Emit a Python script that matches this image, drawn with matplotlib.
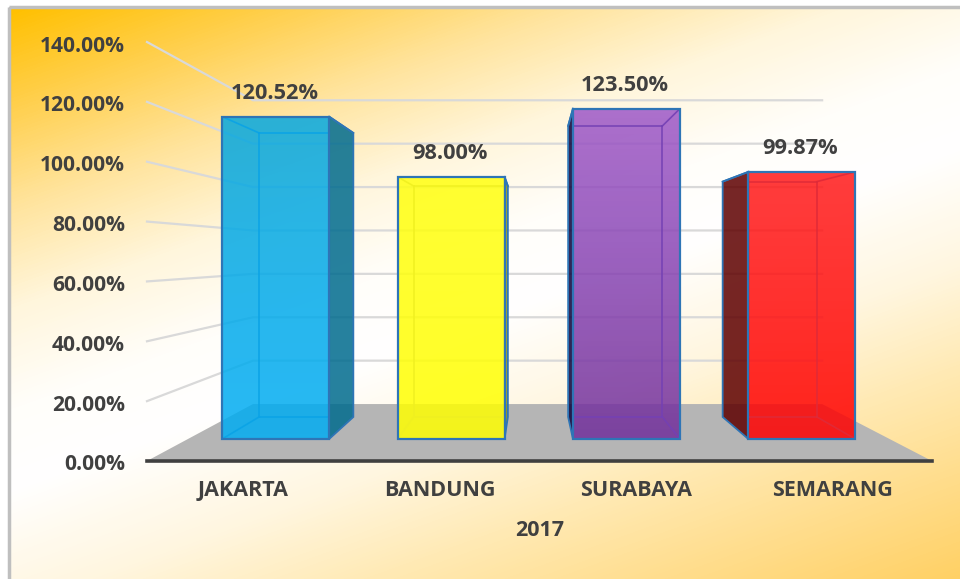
import numpy as np
import matplotlib
matplotlib.use('Agg')
import matplotlib.pyplot as plt
import matplotlib.transforms as mtrans
from matplotlib.colors import LinearSegmentedColormap, to_rgb, to_rgba
from matplotlib.patches import Polygon, Rectangle

categories = ['JAKARTA', 'BANDUNG', 'SURABAYA', 'SEMARANG']
values = [120.52, 98.00, 123.50, 99.87]
value_labels = ['120.52%', '98.00%', '123.50%', '99.87%']
y_ticks = [0, 20, 40, 60, 80, 100, 120, 140]
x_title = '2017'

top_colors = ['#04A7DF', '#FFFF10', '#9D57C8', '#FF1919']
bottom_colors = ['#00ADF3', '#FFFF00', '#712F9B', '#FF0000']
side_colors = ['#006B8E', '#999900', '#09003A', '#5E0000']
inner_colors = ['#0AA3E6', '#F0F020', '#7440B4', '#E02A38']

TEXT = '#404040'
EDGE = '#2E75B6'

plt.rcParams['font.family'] = ['Open Sans', 'DejaVu Sans']
plt.rcParams['font.weight'] = 'bold'
FS = 15.5

# Perspective: depth 0 is the front of the floor, depth 1 the back wall.
VP_X, VP_V = 1.464, 69.2
BACK_SCALE = 0.725
BAR_FRONT, BAR_BACK = 0.386, 0.773
HALF_W = 0.305
BAR_ALPHA = 0.85


def proj(x, v, d):
    s = 1 - (1 - BACK_SCALE) * d
    return VP_X + s * (x - VP_X), VP_V + s * (v - VP_V)


fig = plt.figure(figsize=(9.6, 5.79), dpi=100, facecolor='white')

# background gradient, in pixels of the figure
bg = fig.add_axes([0, 0, 1, 1], zorder=0)
bg.axis('off')
stops = [(0, '#FFC000'), (100, '#FFD04F'), (200, '#FFE49E'), (300, '#FFF6DC'),
         (400, '#FFFEFA'), (480, '#FFFFFF'), (600, '#FFF6DF'), (700, '#FFEAB5'),
         (925, '#FFCF60')]
cmap = LinearSegmentedColormap.from_list('day', [(a / 925, c) for a, c in stops])
xx, yy = np.meshgrid(np.arange(10, 960), np.arange(8, 579))
bg.imshow(0.36 * (xx - 10) + (yy - 8), cmap=cmap, vmin=0, vmax=925,
          extent=(10, 960, 579, 8), aspect='auto', interpolation='bilinear')
bg.set_xlim(0, 960)
bg.set_ylim(579, 0)
bg.add_patch(Rectangle((9, 7), 960, 580, fill=False, ec='#BFBFBF', lw=2.5))

# front plane of the chart: one data unit of x is one category
ax = fig.add_axes([147 / 960, 1 - 461 / 579, 785 / 960, 419 / 579], zorder=1)
ax.patch.set_alpha(0)
ax.set_xlim(-0.5, 3.5)
ax.set_ylim(0, 140)
for s in ['top', 'left', 'right']:
    ax.spines[s].set_visible(False)
ax.spines['bottom'].set_color(TEXT)
ax.spines['bottom'].set_linewidth(2.6)
ax.spines['bottom'].set_zorder(6)
ax.set_xticks(range(len(categories)))
ax.set_xticklabels(categories, fontsize=FS, color=TEXT)
ax.set_yticks(y_ticks)
ax.set_yticklabels(['%.2f%%' % t for t in y_ticks], fontsize=15.1, color=TEXT)
ax.tick_params(axis='x', length=0, pad=14)
ax.tick_params(axis='y', length=0, pad=16)
ax.set_xlabel(x_title, fontsize=FS, color=TEXT, labelpad=13, fontweight='bold')

shift = mtrans.ScaledTranslation(0, -0.015, fig.dpi_scale_trans)
for lab in ax.get_yticklabels():
    lab.set_transform(lab.get_transform() + shift)
shift_x = mtrans.ScaledTranslation(-0.015, 0, fig.dpi_scale_trans)
for lab in ax.get_xticklabels():
    lab.set_transform(lab.get_transform() + shift_x)

x0, x1 = ax.get_xlim()
# floor
ax.add_patch(Polygon([proj(x0, 0, 0), proj(x1, 0, 0), proj(x1, 0, 1), proj(x0, 0, 1)],
                     fc='#B5B5B5', ec='none', zorder=1, clip_on=False))
# gridlines along the side wall and the back wall
for t in y_ticks[1:]:
    pts = [proj(x0, t, 0), proj(x0, t, 1), proj(x1, t, 1)]
    ax.plot([p[0] for p in pts], [p[1] for p in pts], color='#D9D9D9', lw=1.6,
            zorder=2, clip_on=False)

for i, val in enumerate(values):
    l, r = i - HALF_W, i + HALF_W
    fbl, fbr = proj(l, 0, BAR_FRONT), proj(r, 0, BAR_FRONT)
    ftl, ftr = proj(l, val, BAR_FRONT), proj(r, val, BAR_FRONT)
    bbl, bbr = proj(l, 0, BAR_BACK), proj(r, 0, BAR_BACK)
    btl, btr = proj(l, val, BAR_BACK), proj(r, val, BAR_BACK)
    z = 3 + i * 0.01

    # the side that sticks out past the front face
    if i < VP_X:
        outer = [fbr, bbr, btr, ftr]
        near_top, far_top = ftr, btr
    else:
        outer = [fbl, bbl, btl, ftl]
        near_top, far_top = ftl, btl
    ax.add_patch(Polygon(outer, fc=to_rgba(side_colors[i], BAR_ALPHA), ec=EDGE, lw=1.3,
                         zorder=z, clip_on=False))

    # front face, shaded from its top colour to its bottom colour
    top_rgb, bot_rgb = np.array(to_rgb(top_colors[i])), np.array(to_rgb(bottom_colors[i]))
    shade = np.linspace(0, 1, 64)[:, None, None]
    img = top_rgb * (1 - shade) + bot_rgb * shade
    img = np.dstack([img, np.full(img.shape[:2], BAR_ALPHA)])
    im = ax.imshow(img, extent=(ftl[0], ftr[0], fbl[1], ftl[1]), aspect='auto',
                   zorder=z + 0.001)
    ax.set_xlim(x0, x1)
    ax.set_ylim(0, 140)
    im.set_clip_on(False)

    # inner edges seen through the front face only
    face = Polygon([fbl, fbr, ftr, ftl], fill=False, ec=EDGE, lw=1.6,
                   zorder=z + 0.003, clip_on=False)
    ax.add_patch(face)
    for a, b in [(bbl, bbr), (btl, btr), (bbl, btl), (bbr, btr),
                 (ftl, btl), (ftr, btr), (fbl, bbl), (fbr, bbr)]:
        line, = ax.plot([a[0], b[0]], [a[1], b[1]], color=inner_colors[i], lw=1.2,
                        zorder=z + 0.002, alpha=0.9)
        line.set_clip_path(face.get_path(), face.get_transform())
    ax.plot([near_top[0], far_top[0]], [near_top[1], far_top[1]], color=EDGE, lw=1.3,
            zorder=z + 0.004, clip_on=False)

    top = proj(i, val, BAR_FRONT)
    ax.annotate(value_labels[i], top, xytext=(-1, 16.8), textcoords='offset points',
                ha='center', va='center', fontsize=15.7, color=TEXT, zorder=7,
                annotation_clip=False)

fig.savefig('out.png', dpi=100)
